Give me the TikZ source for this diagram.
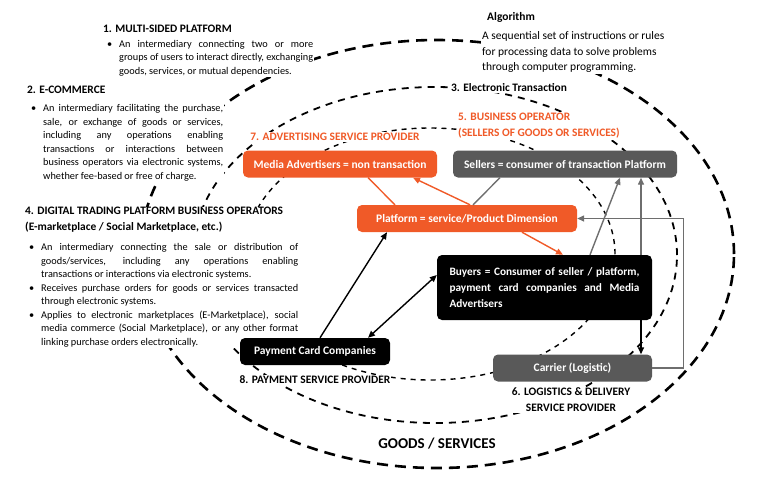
\documentclass[tikz,border=0pt]{standalone}
\usepackage{fontspec}
\setmainfont{Carlito}
\usetikzlibrary{arrows.meta}
\definecolor{orng}{RGB}{240,90,40}
\definecolor{dgray}{RGB}{89,89,89}
\definecolor{lgray}{RGB}{110,110,110}
\newcommand\hd[1]{{\bfseries\fontsize{11.4}{16}\selectfont #1\par}}
\newcommand\bitem{\par\hangindent=16pt\hangafter=0\noindent\llap{\textbullet\hspace{7pt}}}
\hyphenpenalty=10000
\exhyphenpenalty=10000
\tolerance=10000
\begin{document}
\begin{tikzpicture}[x=1pt,y=-1pt,
  box/.style={rounded corners=5pt,minimum height=27pt,inner sep=2pt,text=white,font=\bfseries\fontsize{11.5}{13}\selectfont},
  txt/.style={fill=white,inner sep=1pt,align=justify,font=\fontsize{10.3}{13.5}\selectfont},
  lbl/.style={fill=white,inner sep=1pt,font=\bfseries\fontsize{11.4}{16}\selectfont},
  tip/.tip={Triangle[length=7pt,width=6pt]},
  oarr/.style={orng,line width=1.4pt,-tip},
  garr/.style={lgray,line width=1.4pt,-tip},
  barr/.style={black,line width=1.4pt,-tip}]
\useasboundingbox (0,0) rectangle (768,485);
%Dashed ellipses
\draw [line width=2.6pt,dash pattern=on 11pt off 7pt] (437,254) ellipse [x radius=297pt,y radius=214pt];
\draw [line width=1.8pt,dash pattern=on 7pt off 6pt] (435,255) ellipse [x radius=242pt,y radius=168pt];
\draw [line width=1.4pt,dash pattern=on 5pt off 5pt] (430,254) ellipse [x radius=185pt,y radius=126pt];

%Text blocks
\node [txt,anchor=north west,text width=210pt] (6) at (102,23.5) {\hd{1. MULTI-SIDED PLATFORM}\vspace{1.5pt}
\bitem An intermediary connecting two or more\linebreak groups of users to interact directly, exchanging\linebreak goods, services, or mutual dependencies.\par};
\node [txt,anchor=north west,text width=196pt] (7) at (26,85.3) {\hd{2. E-COMMERCE}\vspace{4.5pt}
\bitem An intermediary facilitating the purchase,\linebreak sale, or exchange of goods or services,\linebreak including any operations enabling\linebreak transactions or interactions between\linebreak business operators via electronic systems,\linebreak whether fee-based or free of charge.\par};
\node [txt,anchor=north west,text width=273pt] (8) at (24,206.3) {\hd{4. DIGITAL TRADING PLATFORM BUSINESS OPERATORS}\hd{(E-marketplace / Social Marketplace, etc.)}\vspace{6.5pt}
\bitem An intermediary connecting the sale or distribution of\linebreak goods/services, including any operations enabling\linebreak transactions or interactions via electronic systems.
\bitem Receives purchase orders for goods or services transacted\linebreak through electronic systems.
\bitem Applies to electronic marketplaces (E-Marketplace), social\linebreak media commerce (Social Marketplace), or any other format\linebreak linking purchase orders electronically.\par};
\node [fill=white,inner sep=1pt,anchor=north west,align=left,font=\fontsize{11.5}{15.5}\selectfont] (9) at (481,11.3) {\hspace*{5pt}\textbf{Algorithm}\\[3.5pt]A sequential set of instructions or rules\\for processing data to solve problems\\through computer programming.};

%Labels
\node [lbl] (10) at (509,88) {3. Electronic Transaction};
\node [lbl,text=orng,align=left,anchor=west] (11) at (457,126) {5. BUSINESS OPERATOR\\(SELLERS OF GOODS OR SERVICES)};
\node [lbl,text=orng] (12) at (335,137) {7. ADVERTISING SERVICE PROVIDER};
\node [lbl] (13) at (315,380) {8. PAYMENT SERVICE PROVIDER};
\node [lbl,align=center] (14) at (571,400) {6. LOGISTICS \& DELIVERY\\SERVICE PROVIDER};
\node [font=\bfseries\fontsize{15}{18}\selectfont] (15) at (437,444) {GOODS / SERVICES};

%Boxes
\node [box,fill=orng,minimum width=194pt] (0) at (340,164) {Media Advertisers = non transaction};
\node [box,fill=dgray,minimum width=224pt] (1) at (565,164) {Sellers = consumer of transaction Platform};
\node [box,fill=orng,minimum width=220pt] (2) at (467,218.5) {Platform = service/Product Dimension};
\node [box,fill=black,minimum width=215pt,minimum height=65pt,inner xsep=12.5pt,text width=190pt,align=justify,font=\bfseries\fontsize{11.3}{16}\selectfont] (3) at (544.5,287.5) {Buyers = Consumer of seller / platform,\linebreak payment card companies and Media\linebreak Advertisers\par};
\node [box,fill=black,minimum width=150pt] (4) at (315,351.5) {Payment Card Companies};
\node [box,fill=dgray,minimum width=159pt] (5) at (572.5,368) {Carrier (Logistic)};

%Arrows
\draw [orng,line width=1.4pt] ([xshift=28pt]0.south) to ([xshift=-72pt]2.north);
\draw [oarr] ([xshift=3pt]2.north) to ([xshift=73pt]0.south);
\draw [oarr] ([xshift=55pt]2.south) to ([xshift=18.5pt]3.north);
\draw [lgray,line width=1.4pt] ([xshift=-65pt]1.south) to ([xshift=6pt]2.north);
\draw [garr] ([xshift=45.5pt]3.north) to ([xshift=55pt]1.south);
\draw [garr] ([xshift=96.5pt]3.north) to ([xshift=76pt]1.south);
\draw [barr] ([xshift=96.5pt]3.south) to ([xshift=68.5pt]5.north);
\draw [garr] (5.east) -- ++(31,0) |- (2.east);
\draw [barr] ([xshift=5pt]4.north) to ([xshift=-80pt]2.south);
\draw [barr,tip-tip] ([yshift=12.5pt]3.west) to ([xshift=53pt]4.north);
\end{tikzpicture}
\end{document}
